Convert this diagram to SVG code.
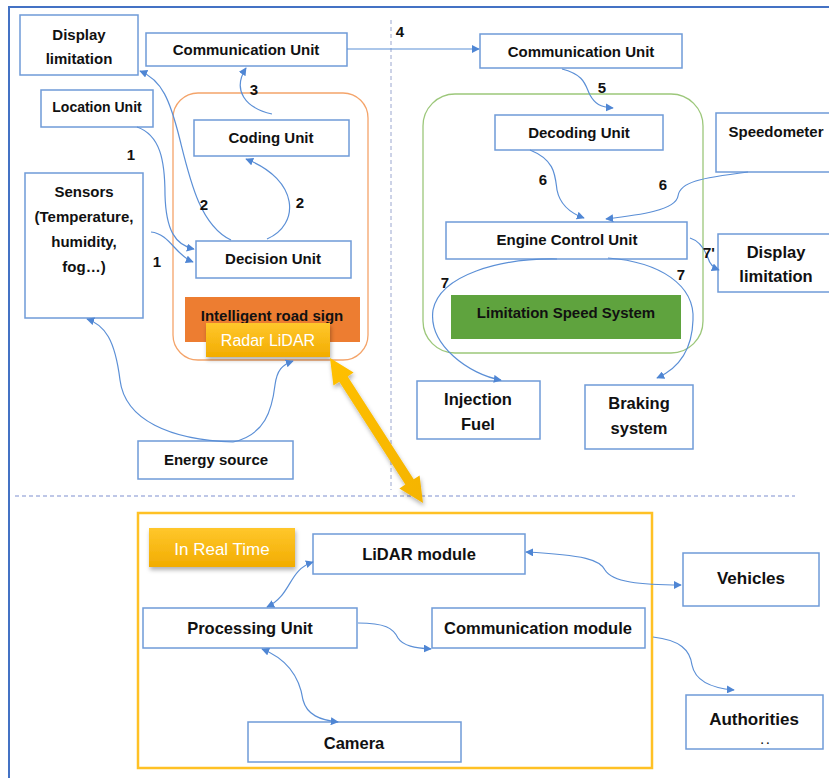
<svg xmlns="http://www.w3.org/2000/svg" width="829" height="778" viewBox="0 0 829 778">
  <style>
    .box { fill: #ffffff; stroke: #6f9bd8; stroke-width: 1.5; }
    .t { font-family: "Comic Sans MS", "Liberation Sans", "DejaVu Sans", sans-serif; font-weight: bold; font-size: 15px; fill: #111; text-anchor: middle; }
    .lg { font-size: 16.5px; }
    .xl { font-size: 17px; }
    .num { font-family: "Liberation Sans", "DejaVu Sans", sans-serif; font-weight: bold; font-size: 15px; fill: #111; text-anchor: middle; }
    .wt { font-family: "Comic Sans MS", "Liberation Sans", "DejaVu Sans", sans-serif; font-size: 16px; fill: #ffffff; text-anchor: middle; }
    .link { fill: none; stroke: #5b8fd6; stroke-width: 1.2; }
  </style>
  <defs>
    <marker id="ah" viewBox="0 0 10 10" refX="9" refY="5" markerWidth="8" markerHeight="8" orient="auto-start-reverse" markerUnits="userSpaceOnUse">
      <path d="M0,0 L10,5 L0,10 z" fill="#4f86d4"/>
    </marker>
    <linearGradient id="gold" x1="0" y1="0" x2="0" y2="1">
      <stop offset="0" stop-color="#ffc72c"/>
      <stop offset="1" stop-color="#f2ac00"/>
    </linearGradient>
    <linearGradient id="arrowGold" x1="0" y1="0" x2="1" y2="1">
      <stop offset="0" stop-color="#ffc000"/>
      <stop offset="1" stop-color="#f5b400"/>
    </linearGradient>
    <filter id="shadow" x="-10%" y="-20%" width="130%" height="160%">
      <feDropShadow dx="1" dy="3" stdDeviation="2" flood-color="#000" flood-opacity="0.3"/>
    </filter>
  </defs>

  <rect width="829" height="778" fill="#ffffff"/>

  <!-- outer frame -->
  <path d="M9,778 L9,7 L829,7" fill="none" stroke="#4472c4" stroke-width="2"/>
  <!-- section separators -->
  <line x1="391" y1="20" x2="391" y2="490" stroke="#9aa6cf" stroke-width="1" stroke-dasharray="4 3"/>
  <line x1="15" y1="496" x2="795" y2="496" stroke="#7f8fcf" stroke-width="1.2" stroke-dasharray="4 3"/>

  <!-- containers -->
  <g id="road-sign-group">
    <rect x="173" y="93" width="195" height="267" rx="25" fill="none" stroke="#f4a46a" stroke-width="1.3"/>
  </g>
  <g id="vehicle-group">
    <rect x="423" y="94" width="280" height="259" rx="32" fill="none" stroke="#9cc77a" stroke-width="1.3"/>
  </g>
  <g id="realtime-group">
    <rect x="138" y="513" width="514" height="255" fill="none" stroke="#ffc125" stroke-width="2.5"/>
  </g>

  <!-- left: intelligent road sign -->
  <g id="display-limitation-left">
    <rect class="box" x="20" y="15" width="118" height="60"/>
    <text class="t" x="79" y="40">Display</text>
    <text class="t" x="79" y="64">limitation</text>
  </g>
  <g id="communication-unit-left">
    <rect class="box" x="146" y="33" width="201" height="33"/>
    <text class="t" x="246" y="55">Communication Unit</text>
  </g>
  <g id="location-unit">
    <rect class="box" x="41" y="90" width="112" height="37"/>
    <text class="t" x="97" y="112" style="font-size:14px">Location Unit</text>
  </g>
  <g id="sensors">
    <rect class="box" x="25" y="173" width="118" height="145"/>
    <text class="t" x="84" y="197">Sensors</text>
    <text class="t" x="84" y="222">(Temperature,</text>
    <text class="t" x="84" y="247">humidity,</text>
    <text class="t" x="84" y="272">fog…)</text>
  </g>
  <g id="coding-unit">
    <rect class="box" x="194" y="120" width="155" height="36"/>
    <text class="t" x="271" y="143">Coding Unit</text>
  </g>
  <g id="decision-unit">
    <rect class="box" x="196" y="241" width="155" height="37"/>
    <text class="t" x="273" y="264">Decision Unit</text>
  </g>
  <g id="intelligent-road-sign">
    <rect x="185" y="297" width="175" height="45" fill="#ed7d31"/>
    <text class="t" x="272" y="321">Intelligent road sign</text>
  </g>
  <g id="radar-lidar">
    <rect x="206" y="323" width="124" height="34" fill="url(#gold)" filter="url(#shadow)"/>
    <text class="wt" x="268" y="346">Radar LiDAR</text>
  </g>
  <g id="energy-source">
    <rect class="box" x="138" y="441" width="155" height="38"/>
    <text class="t" x="216" y="465">Energy source</text>
  </g>

  <!-- right: vehicle -->
  <g id="communication-unit-right">
    <rect class="box" x="480" y="34" width="202" height="34"/>
    <text class="t" x="581" y="57">Communication Unit</text>
  </g>
  <g id="decoding-unit">
    <rect class="box" x="495" y="115" width="168" height="35"/>
    <text class="t" x="579" y="138">Decoding Unit</text>
  </g>
  <g id="speedometer">
    <rect class="box" x="716" y="113" width="120" height="59"/>
    <text class="t" x="776" y="137">Speedometer</text>
  </g>
  <g id="engine-control-unit">
    <rect class="box" x="446" y="222" width="241" height="37"/>
    <text class="t" x="567" y="245">Engine Control Unit</text>
  </g>
  <g id="display-limitation-right">
    <rect class="box" x="718" y="234" width="115" height="58"/>
    <text class="t lg" x="776" y="258">Display</text>
    <text class="t lg" x="776" y="282">limitation</text>
  </g>
  <g id="limitation-speed-system">
    <rect x="451" y="295" width="230" height="44" fill="#5fa33e"/>
    <text class="t" x="566" y="318">Limitation Speed System</text>
  </g>
  <g id="injection-fuel">
    <rect class="box" x="417" y="381" width="123" height="58"/>
    <text class="t lg" x="478" y="405">Injection</text>
    <text class="t lg" x="478" y="430">Fuel</text>
  </g>
  <g id="braking-system">
    <rect class="box" x="585" y="385" width="108" height="64"/>
    <text class="t lg" x="639" y="409">Braking</text>
    <text class="t lg" x="639" y="434">system</text>
  </g>

  <!-- bottom: real-time LiDAR -->
  <g id="in-real-time">
    <rect x="149" y="528" width="146" height="39" fill="url(#gold)" filter="url(#shadow)"/>
    <text class="wt" x="222" y="555" style="font-size:17px">In Real Time</text>
  </g>
  <g id="lidar-module">
    <rect class="box" x="313" y="534" width="212" height="40"/>
    <text class="t lg" x="419" y="560">LiDAR module</text>
  </g>
  <g id="processing-unit">
    <rect class="box" x="143" y="608" width="214" height="40"/>
    <text class="t lg" x="250" y="634">Processing Unit</text>
  </g>
  <g id="communication-module">
    <rect class="box" x="432" y="608" width="213" height="40"/>
    <text class="t lg" x="538" y="634">Communication module</text>
  </g>
  <g id="camera">
    <rect class="box" x="248" y="722" width="213" height="40"/>
    <text class="t lg" x="354" y="749">Camera</text>
  </g>
  <g id="vehicles">
    <rect class="box" x="683" y="553" width="136" height="53"/>
    <text class="t xl" x="751" y="584">Vehicles</text>
  </g>
  <g id="authorities">
    <rect class="box" x="686" y="695" width="137" height="54"/>
    <text class="t xl" x="754" y="725">Authorities</text>
    <text class="t" x="765" y="744" style="font-size:10px">. .</text>
  </g>

  <!-- connectors -->
  <g id="connectors">
    <path class="link" d="M347,49 L479,49" marker-end="url(#ah)"/>
    <path class="link" d="M272,114 C245,108 232,90 246,68" marker-end="url(#ah)"/>
    <path class="link" d="M267,239 C300,225 300,180 246,159" marker-end="url(#ah)"/>
    <path class="link" d="M231,240 C200,225 190,180 180,140 C170,100 162,80 140,71" marker-end="url(#ah)"/>
    <path class="link" d="M137,127 C160,135 165,160 165,195 C166,230 175,245 194,249" marker-end="url(#ah)"/>
    <path class="link" d="M151,232 C170,234 175,255 193,262" marker-end="url(#ah)"/>
    <path class="link" d="M233,442 C170,440 125,420 120,380 C115,340 105,325 87,319" marker-end="url(#ah)"/>
    <path class="link" d="M233,442 C265,435 272,410 275,385 C277,370 282,365 293,361" marker-end="url(#ah)"/>

    <path class="link" d="M562,69 C585,75 585,85 590,95 C595,104 600,107 613,108" marker-end="url(#ah)"/>
    <path class="link" d="M530,150 C555,160 555,175 557,190 C560,205 570,213 584,218" marker-end="url(#ah)"/>
    <path class="link" d="M748,172 C700,178 680,182 678,196 C676,210 640,215 606,219" marker-end="url(#ah)"/>
    <path class="link" d="M690,238 C700,241 705,250 708,258 C710,265 714,268 719,270" marker-end="url(#ah)"/>
    <path class="link" d="M557,259 C500,258 440,275 433,310 C428,345 470,375 501,380" marker-end="url(#ah)"/>
    <path class="link" d="M608,258 C660,262 695,285 693,320 C692,355 675,370 657,378" marker-end="url(#ah)"/>

    <path class="link" d="M313,562 C288,570 292,595 267,607" marker-start="url(#ah)" marker-end="url(#ah)"/>
    <path class="link" d="M358,623 C385,623 393,628 398,638 C403,646 415,648 431,649" marker-end="url(#ah)"/>
    <path class="link" d="M262,649 C290,660 300,680 303,700 C307,715 320,720 338,722" marker-start="url(#ah)" marker-end="url(#ah)"/>
    <path class="link" d="M526,552 C585,555 600,560 605,570 C612,582 640,585 681,585" marker-start="url(#ah)" marker-end="url(#ah)"/>
    <path class="link" d="M653,637 C680,640 690,650 692,665 C695,680 710,688 734,690" marker-end="url(#ah)"/>

    <!-- thick link between the road sign radar and the real-time block -->
    <polygon points="330,358 353.6,372.6 347.7,376.4 413.7,479.2 419.6,475.4 423,503 399.4,488.4 405.3,484.6 339.3,381.8 333.4,385.6" fill="url(#arrowGold)" filter="url(#shadow)"/>
  </g>

  <!-- step numbers -->
  <g id="step-labels">
    <text class="num" x="400" y="37">4</text>
    <text class="num" x="254" y="95">3</text>
    <text class="num" x="131" y="160">1</text>
    <text class="num" x="204" y="210">2</text>
    <text class="num" x="300" y="208">2</text>
    <text class="num" x="157" y="267">1</text>
    <text class="num" x="602" y="93">5</text>
    <text class="num" x="543" y="185">6</text>
    <text class="num" x="663" y="190">6</text>
    <text class="num" x="709" y="258">7'</text>
    <text class="num" x="445" y="288">7</text>
    <text class="num" x="681" y="280">7</text>
  </g>
</svg>
